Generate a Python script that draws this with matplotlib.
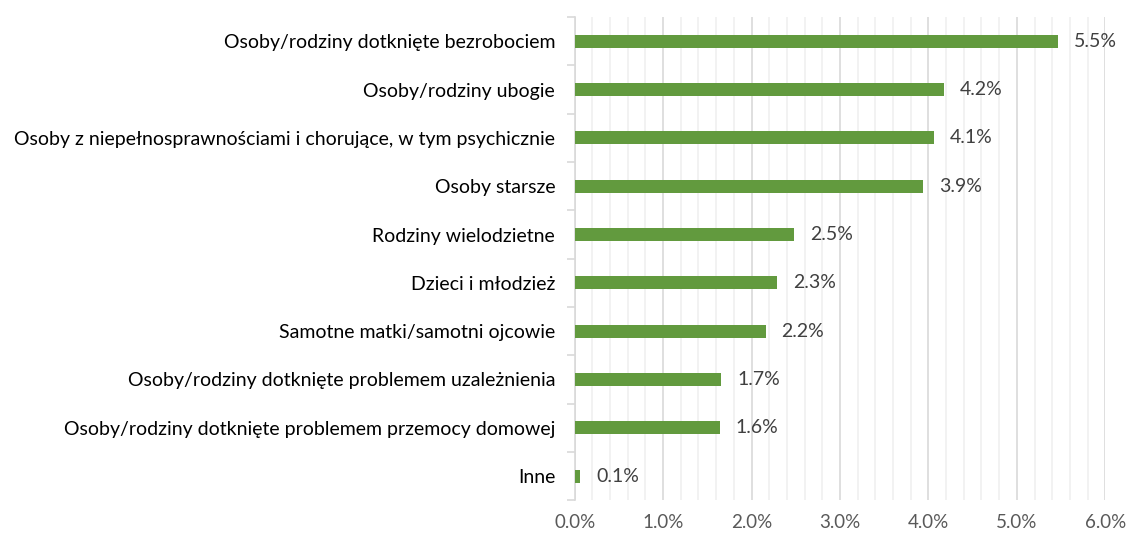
import matplotlib.pyplot as plt
import numpy as np
from matplotlib.ticker import MultipleLocator, FuncFormatter

plt.rcParams['font.family'] = ['Lato', 'DejaVu Sans']

categories = [
    "Osoby/rodziny dotknięte bezrobociem",
    "Osoby/rodziny ubogie",
    "Osoby z niepełnosprawnościami i chorujące, w tym psychicznie",
    "Osoby starsze",
    "Rodziny wielodzietne",
    "Dzieci i młodzież",
    "Samotne matki/samotni ojcowie",
    "Osoby/rodziny dotknięte problemem uzależnienia",
    "Osoby/rodziny dotknięte problemem przemocy domowej",
    "Inne",
]
values = [5.46, 4.18, 4.06, 3.94, 2.48, 2.29, 2.16, 1.66, 1.64, 0.06]

fig = plt.figure(figsize=(11.29, 5.35), dpi=100)
ax = fig.add_axes([0.509, 0.065, 0.470, 0.903])

y = np.arange(len(categories))
ax.barh(y, values, height=0.27, color='#629A3E', zorder=3)

for yi, v in zip(y, values):
    ax.text(v + 0.18, yi, f"{v:.1f}%", va='center', ha='left',
            fontsize=14, color='#404040')

ax.set_xlim(0, 6)
ax.set_ylim(len(categories) - 0.5, -0.5)
ax.xaxis.set_major_locator(MultipleLocator(1))
ax.xaxis.set_minor_locator(MultipleLocator(0.2))
ax.xaxis.set_major_formatter(FuncFormatter(lambda x, p: f"{x:.1f}%"))
ax.grid(axis='x', which='major', color='#D9D9D9', lw=1.2, zorder=0)
ax.grid(axis='x', which='minor', color='#F0F0F0', lw=1.2, zorder=0)
ax.tick_params(axis='x', which='both', length=0, labelsize=13.5,
               labelcolor='#595959', pad=10)

ax.set_yticks(y)
ax.set_yticklabels(categories, fontsize=14)
ax.set_yticks(np.arange(-0.5, len(categories)), minor=True)
ax.tick_params(axis='y', which='major', length=0, pad=14)
ax.tick_params(axis='y', which='minor', length=6, color='#D9D9D9', width=1.2)

for s in ['top', 'right', 'bottom']:
    ax.spines[s].set_visible(False)
ax.spines['left'].set_color('#D9D9D9')
ax.spines['left'].set_linewidth(1.2)

fig.savefig("out.png", dpi=100)
